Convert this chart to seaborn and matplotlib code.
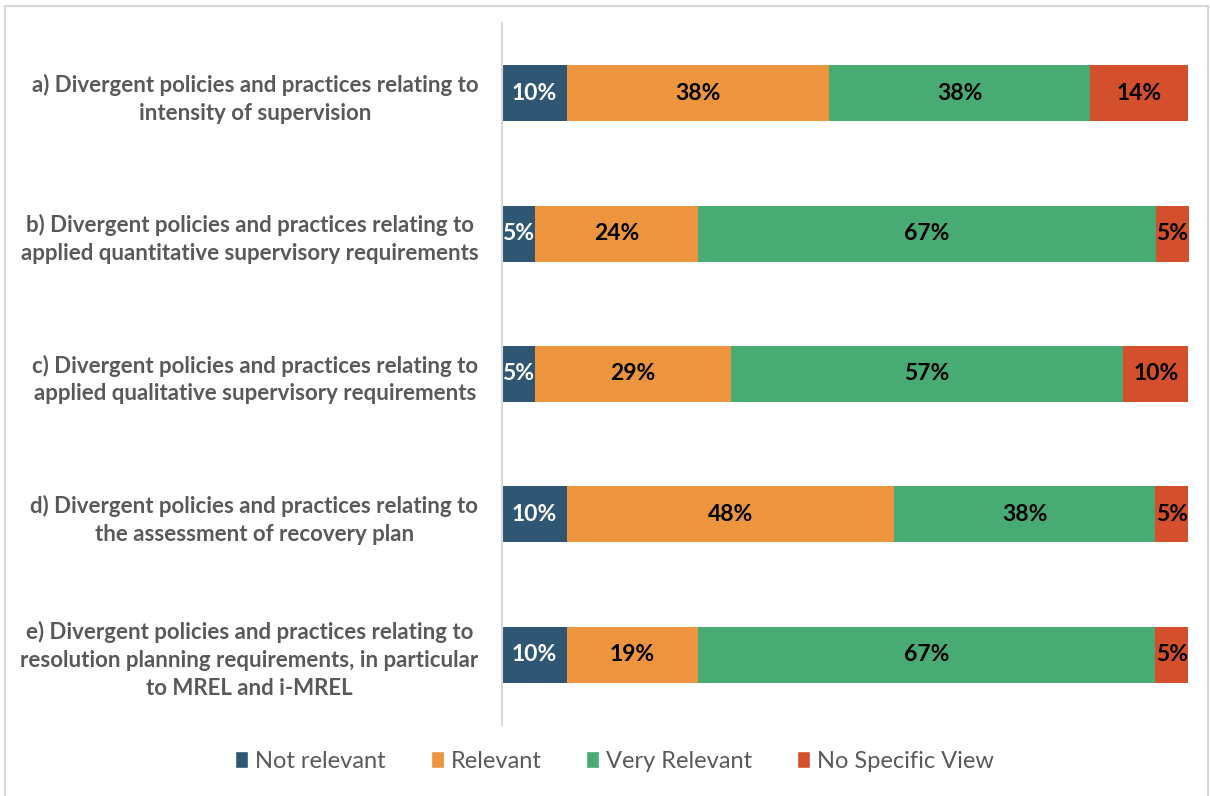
import matplotlib
matplotlib.use("Agg")
from matplotlib import pyplot as plt
from matplotlib.patches import Rectangle, Patch
import numpy as np
import seaborn as sns

categories = [
    "a) Divergent policies and practices relating to\nintensity of supervision",
    "b) Divergent policies and practices relating to\napplied quantitative supervisory requirements",
    "c) Divergent policies and practices relating to\napplied qualitative supervisory requirements",
    "d) Divergent policies and practices relating to\nthe assessment of recovery plan",
    "e) Divergent policies and practices relating to\nresolution planning requirements, in particular\nto MREL and i-MREL",
]
series = ["Not relevant", "Relevant", "Very Relevant", "No Specific View"]
not_relevant = [9.5, 4.8, 4.8, 9.5, 9.5]
relevant = [38.1, 23.8, 28.6, 47.6, 19.0]
very_relevant = [38.1, 66.7, 57.1, 38.1, 66.7]
no_view = [14.3, 4.8, 9.5, 4.8, 4.8]

colors = ["#2F5773", "#EC943E", "#48AB74", "#D44F2C"]
text_colors = ["white", "black", "black", "black"]

sns.set_theme(style="white")
plt.rcParams["font.family"] = ["Lato", "DejaVu Sans"]

vals = np.array([not_relevant, relevant, very_relevant, no_view]).T
cum = vals.cumsum(axis=1)

fig = plt.figure(figsize=(12.1, 7.96), dpi=100)
ax = fig.add_axes([502 / 1210, 1 - 725 / 796, 687 / 1210, 702 / 796])

# draw cumulative bars from the back so they look stacked
for i in reversed(range(4)):
    sns.barplot(x=cum[:, i], y=categories, color=colors[i], orient="h",
                width=0.4, ax=ax, saturation=1, linewidth=0)

for r in range(len(categories)):
    for i in range(4):
        mid = cum[r, i] - vals[r, i] / 2
        ax.text(mid, r, f"{vals[r, i]:.0f}%", ha="center", va="center",
                color=text_colors[i], fontsize=16.5, fontweight="bold")

ax.set_xlim(0, cum[:, -1].max())
ax.set_ylim(4.5, -0.5)
ax.set_xticks([])
ax.set_xlabel("")
ax.set_ylabel("")
for s in ["top", "right", "bottom"]:
    ax.spines[s].set_visible(False)
ax.spines["left"].set_color("#D9D9D9")
ax.spines["left"].set_linewidth(1.5)
ax.tick_params(axis="y", length=0, pad=17)
for lab in ax.get_yticklabels():
    lab.set_multialignment("center")
    lab.set_fontsize(16)
    lab.set_fontweight("bold")
    lab.set_color("#595959")
    lab.set_linespacing(1.4)

handles = [Patch(facecolor=c, label=s) for c, s in zip(colors, series)]
fig.legend(handles=handles, loc="center", bbox_to_anchor=(0.508, 1 - 761 / 796),
           ncol=4, frameon=False, fontsize=17, labelcolor="#595959",
           handlelength=0.55, handleheight=0.75, handletextpad=0.3, columnspacing=1.9)

fig.patches.append(Rectangle((5 / 1210, -0.01), 1203 / 1210, 1 - 6 / 796 + 0.01,
                             transform=fig.transFigure, fill=False,
                             edgecolor="#D9D9D9", linewidth=1.5))

fig.savefig("out.png", dpi=100)
